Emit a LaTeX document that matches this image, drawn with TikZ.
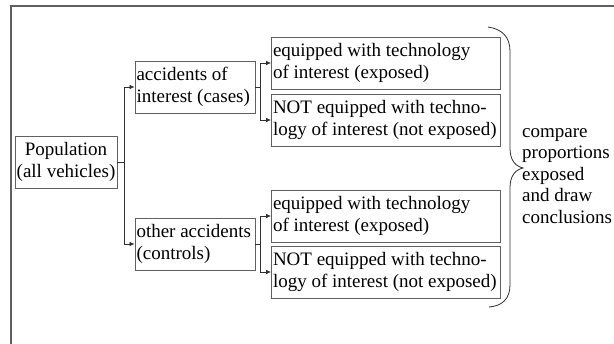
\documentclass[tikz,border=0pt]{standalone}
\usepackage{fontspec}
\setmainfont{Liberation Serif}
\usetikzlibrary{arrows.meta}
\definecolor{boxgray}{HTML}{606060}
\definecolor{linegray}{HTML}{303030}
\begin{document}
\begin{tikzpicture}[x=1pt, y=-1pt,
    every node/.style={font=\fontsize{19}{21.5}\selectfont, inner sep=1.5pt},
    box/.style={draw=boxgray, line width=0.8pt, minimum height=52pt},
    tbox/.style={box, text width=226pt, align=flush left},
    arr/.style={draw=linegray, line width=0.7pt, -{Latex[length=5pt,width=4.5pt]}}]
    \useasboundingbox (0,0) rectangle (614,344);
    \draw[boxgray, line width=1.3pt] (11,344) -- (11,6) -- (614,6);
    \node[box, minimum width=102pt, align=center] (pop) at (66,162) {Population\\(all vehicles)};
    \node[box, text width=117pt, align=flush left] (cases) at (195,87) {accidents of\\interest (cases)};
    \node[box, text width=117pt, align=flush left] (ctrl) at (195,244) {other accidents\\(controls)};
    \node[tbox] (exp1) at (386,63) {equipped with technology\\of interest (exposed)};
    \node[tbox] (nexp1) at (386,120) {NOT equipped with techno-\\logy of interest (not exposed)};
    \node[tbox] (exp2) at (386,216) {equipped with technology\\of interest (exposed)};
    \node[tbox] (nexp2) at (386,272) {NOT equipped with techno-\\logy of interest (not exposed)};
    \draw[arr] (pop.east) -- ++(7,0) |- (cases.west);
    \draw[arr] (pop.east) -- ++(7,0) |- (ctrl.west);
    \draw[arr] (cases.east) -- ++(5,0) |- (exp1.west);
    \draw[arr] (cases.east) -- ++(5,0) |- (nexp1.west);
    \draw[arr] (ctrl.east) -- ++(5,0) |- (exp2.west);
    \draw[arr] (ctrl.east) -- ++(5,0) |- (nexp2.west);
    \draw[linegray, line width=0.8pt] (488,27) .. controls (502,29) and (510,37) .. (510,51) -- (510,148)
        .. controls (510,160) and (515,166) .. (523,168) .. controls (515,170) and (510,176) .. (510,188)
        -- (510,285) .. controls (510,299) and (502,306) .. (489,307);
    \node[anchor=west, align=left, inner sep=0pt] (concl) at (522,176) {compare\\proportions\\exposed\\and draw\\conclusions};
\end{tikzpicture}
\end{document}
